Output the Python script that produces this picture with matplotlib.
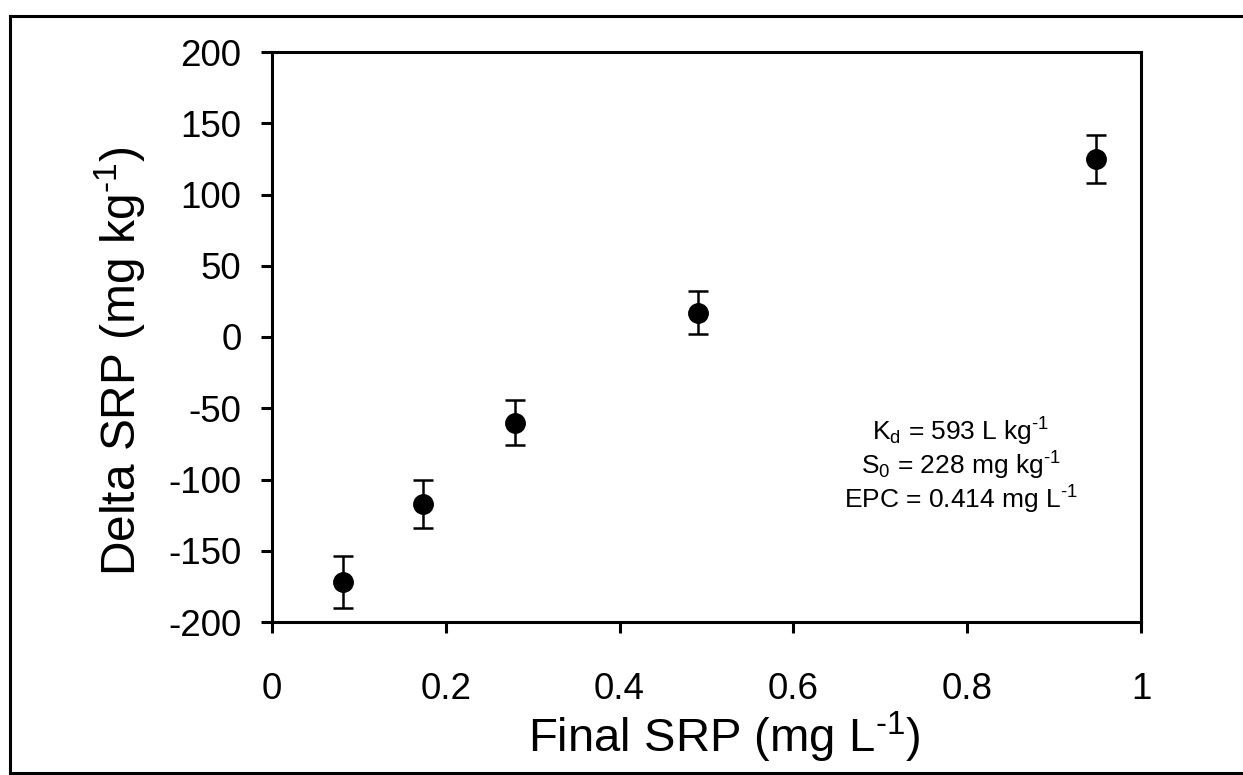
import matplotlib
matplotlib.use("Agg")
import matplotlib.pyplot as plt
from matplotlib.lines import Line2D

plt.rcParams['font.family'] = ['Liberation Sans', 'DejaVu Sans']
plt.rcParams['mathtext.fontset'] = 'custom'
plt.rcParams['mathtext.rm'] = 'Liberation Sans'
plt.rcParams['mathtext.it'] = 'Liberation Sans'
plt.rcParams['axes.unicode_minus'] = False

final_srp = [0.082, 0.174, 0.28, 0.49, 0.948]
delta_srp = [-172, -117, -60, 17, 125]
err = [18, 17, 16, 15, 17]
xticks = [0, 0.2, 0.4, 0.6, 0.8, 1.0]
xticklabels = ["0", "0.2", "0.4", "0.6", "0.8", "1"]
yticks = [-200, -150, -100, -50, 0, 50, 100, 150, 200]

W, H = 1243, 775
fig = plt.figure(figsize=(W / 100, H / 100), dpi=100)
ax = fig.add_axes([272 / W, 1 - 622 / H, (1141 - 272) / W, (622 - 52) / H])

ax.errorbar(final_srp, delta_srp, yerr=err, fmt='o', color='black',
            markersize=14, ecolor='black', elinewidth=1.8, capsize=7,
            capthick=1.8)

ax.set_xlim(0, 1)
ax.set_ylim(-200, 200)
ax.set_xticks(xticks)
ax.set_xticklabels(xticklabels)
ax.set_yticks(yticks)
for s in ax.spines.values():
    s.set_linewidth(2.2)
ax.tick_params(direction='out', length=8, width=2.2, labelsize=26.5)
ax.tick_params(axis='y', pad=14)
ax.tick_params(axis='x', pad=28)

ax.set_xlabel("Final SRP (mg L$^{\\text{-}1}$)", fontsize=34)
ax.xaxis.set_label_coords((724 - 272) / 869, -(710 - 622) / 570)
ax.set_ylabel("Delta SRP (mg kg$^{\\text{-}1}$)", fontsize=34.5)
ax.yaxis.set_label_coords(-(272 - 148) / 869, (622 - 361) / 570)

ax.text(0.793, -90.5,
        "K$_\\mathrm{d}$ = 593 L kg$^{\\text{-}1}$\nS$_0$ = 228 mg kg$^{\\text{-}1}$\nEPC = 0.414 mg L$^{\\text{-}1}$",
        ha='center', va='center', fontsize=19, linespacing=1.08)

# outer frame (right edge lies beyond the image)
fx0, fy0, fy1 = 10 / W, 1 - 773 / H, 1 - 16 / H
lw = 2.2
fig.add_artist(Line2D([fx0, fx0], [fy0, fy1], color='black', lw=lw, transform=fig.transFigure))
fig.add_artist(Line2D([fx0, 1.01], [fy1, fy1], color='black', lw=lw, transform=fig.transFigure))
fig.add_artist(Line2D([fx0, 1.01], [fy0, fy0], color='black', lw=lw, transform=fig.transFigure))

fig.savefig("out.png", dpi=100)
